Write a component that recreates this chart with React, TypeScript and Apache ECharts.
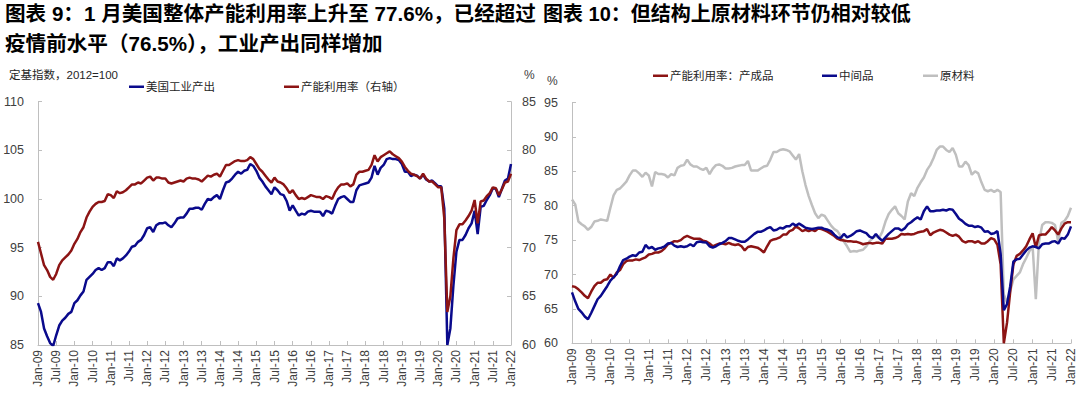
import React, { useEffect, useRef } from "react";
import * as echarts from "echarts";

const MONTHS = ["Jan", "Feb", "Mar", "Apr", "May", "Jun", "Jul", "Aug", "Sep", "Oct", "Nov", "Dec"];
const YEARS = ["09", "10", "11", "12", "13", "14", "15", "16", "17", "18", "19", "20", "21"];
const LAST_LABEL = "Jan-22";

// 美国工业产出 (定基指数 2012=100)
const industrialOutput = [
  89.3, 88.4, 86.7, 85.9, 85.2, 84.9, 86.0, 87.0, 87.5, 87.8, 88.2, 88.4,
  89.3, 89.6, 90.1, 90.5, 91.7, 92.0, 92.3, 92.7, 92.9, 92.7, 92.9, 93.5,
  93.5, 93.1, 93.9, 93.7, 93.9, 94.2, 94.6, 95.1, 95.2, 95.6, 95.8, 96.3,
  97.0, 97.1, 96.6, 97.3, 97.5, 97.5, 97.6, 97.3, 97.1, 97.5, 98.0, 98.1,
  98.1, 98.5, 99.0, 99.0, 99.1, 99.1, 98.9, 99.5, 100.0, 99.9, 100.2, 100.4,
  100.0, 100.9, 101.7, 101.8, 102.1, 102.5, 102.8, 102.6, 102.9, 103.0, 103.6, 103.4,
  102.9, 102.2, 101.8, 101.3, 100.9, 100.5, 101.2, 100.9, 100.5, 100.4, 99.8, 98.8,
  99.35, 98.8, 98.3, 98.5, 98.4, 98.7, 98.8, 98.7, 98.7, 98.7, 98.25, 98.8,
  98.7, 98.5, 99.3, 100.0, 100.2, 100.3, 100.0, 99.7, 99.7, 100.9, 101.4, 101.5,
  101.6, 101.7, 102.2, 103.4, 102.5, 103.2, 103.5, 104.1, 104.2, 104.1, 104.1, 104.0,
  103.6, 102.8, 102.8, 102.35, 102.5, 102.4, 102.1, 102.5, 102.0, 101.8, 101.9, 101.6,
  101.3, 101.3, 99.0, 85.0, 86.7, 91.1, 94.6, 95.8, 95.8, 96.3, 97.0, 97.5,
  98.8, 96.4, 99.2, 99.3, 99.9, 100.4, 101.1, 101.05, 100.2, 101.05, 101.9, 102.1,
  103.6,
];

// 产能利用率 (右轴, %)
const capacityUtilization = [
  70.6, 69.4, 68.2, 67.7, 67.0, 66.7, 67.3, 68.2, 68.7, 69.0, 69.3, 69.7,
  70.4, 70.9, 71.6, 72.1, 73.1, 73.7, 74.2, 74.5, 74.7, 74.7, 74.8, 75.5,
  75.4, 75.1, 75.8, 75.6, 75.7, 75.9, 76.2, 76.5, 76.5, 76.7, 76.6, 76.9,
  77.2, 77.3, 76.9, 77.2, 77.2, 77.1, 77.1, 76.7, 76.6, 76.7, 76.8, 76.9,
  76.8, 77.1, 77.2, 77.1, 77.1, 77.0, 76.8, 77.1, 77.4, 77.3, 77.5, 77.6,
  77.3, 77.9, 78.5, 78.5, 78.7, 78.9, 79.0, 78.9, 78.9, 79.0, 79.3, 79.1,
  78.6, 78.1, 77.8, 77.4, 77.0, 76.7, 77.2, 76.8, 76.7, 76.5, 76.1, 75.6,
  75.9, 75.4, 75.0, 75.1, 75.0, 75.2, 75.4, 75.3, 75.2, 75.2, 75.0, 75.3,
  75.2, 75.0, 75.7, 76.2, 76.5, 76.5, 76.6, 76.3, 76.5, 77.5, 77.8, 77.8,
  77.9, 78.0, 78.5, 79.5, 78.85, 79.3, 79.5, 79.7, 79.9, 79.6, 79.4, 79.2,
  78.85, 78.3, 77.9, 77.6, 77.5, 77.35, 77.1, 77.6, 77.1, 76.8, 76.8, 76.5,
  76.2, 76.2, 73.0, 63.4, 65.0, 68.9, 71.8, 72.4, 72.4, 72.8, 73.25, 73.8,
  74.9, 72.5, 74.75, 74.85, 75.3, 75.6, 76.2, 76.1, 75.4, 76.0, 76.7, 76.8,
  77.6,
];

// 产能利用率：产成品
const finishedGoods = [
  68.3, 68.2, 67.85, 67.4, 66.9, 66.55, 67.5, 68.3, 68.8, 68.8, 69.2, 69.3,
  70.0, 69.5, 70.3, 70.65, 71.5, 71.95, 72.05, 72.05, 72.2, 72.1, 72.3, 72.5,
  72.9, 73.0, 73.2, 73.2, 73.4, 73.8, 74.4, 74.6, 74.85, 74.8, 75.0, 75.4,
  75.6, 75.4, 75.2, 75.2, 75.2, 74.9, 74.8, 74.5, 74.1, 74.3, 74.5, 74.5,
  74.4, 74.6, 74.4, 74.3, 74.4, 74.1, 73.5, 74.0, 74.1, 74.0, 73.9, 73.6,
  73.2, 74.1, 74.9, 75.1, 75.2, 75.4, 75.8, 75.8, 76.3, 76.5, 77.0, 76.7,
  76.3, 76.5, 76.3, 76.5, 76.3, 76.7, 76.6, 76.4, 76.2, 75.9, 75.6, 75.2,
  75.0, 74.95, 74.85, 74.85, 74.75, 74.75, 74.6, 74.4, 74.5, 74.6, 74.5, 74.6,
  74.6, 74.5, 75.2, 75.2, 75.2, 75.3, 75.5, 75.9, 75.8, 75.9, 75.8, 75.9,
  76.1, 76.2, 76.3, 76.6, 75.7, 76.1, 76.3, 76.5, 76.4, 76.1, 75.8, 75.6,
  75.8, 75.5, 74.9, 74.65, 74.85, 74.85, 74.65, 74.85, 74.5, 74.5, 74.85, 75.3,
  75.1, 74.3, 71.5, 60.0, 63.0, 67.5, 71.5, 72.7, 73.0, 73.5, 74.1, 75.1,
  76.0, 73.9, 75.7, 75.8, 75.8, 76.3, 76.9, 76.4, 75.8, 76.7, 77.4, 77.6,
  77.6,
];

// 中间品
const intermediateGoods = [
  67.4, 66.1, 65.0, 64.5, 63.9, 63.5, 64.4, 65.4, 66.4, 66.9, 67.6, 68.3,
  69.1, 69.6, 70.1, 71.2, 72.1, 72.3, 72.6, 72.8, 72.7, 73.2, 73.3, 74.3,
  73.8, 74.0, 73.6, 73.8, 73.9, 74.1, 74.5, 74.6, 74.2, 74.0, 74.1, 74.0,
  74.1, 74.4, 74.1, 74.7, 74.8, 74.7, 74.65, 74.1, 73.9, 74.1, 74.4, 74.6,
  74.85, 75.3, 75.3, 75.1, 74.9, 74.75, 74.75, 75.1, 75.5, 75.9, 76.2, 76.2,
  76.4, 76.7, 76.9, 76.4, 76.5, 76.8, 76.7, 77.0, 77.0, 77.4, 77.1, 77.4,
  77.1, 76.8, 76.7, 76.6, 76.7, 76.8, 76.8, 76.6, 76.5, 76.3, 75.8, 75.4,
  75.3, 75.9, 75.4, 75.6, 75.9, 76.3, 76.4, 76.2, 76.0, 75.5, 75.3, 75.9,
  75.3, 74.9, 75.4, 75.9, 76.3, 76.7, 76.7, 76.4, 76.7, 77.3, 77.6, 78.0,
  78.3, 78.0, 79.2, 79.9, 79.2, 79.2, 79.3, 79.3, 79.4, 79.3, 79.5, 79.4,
  78.8, 78.1, 77.8, 77.35, 77.1, 77.1, 76.9, 77.0, 76.8, 76.2, 76.3, 75.9,
  76.0, 76.3, 73.0, 64.8, 65.7, 68.3, 71.9, 72.2, 72.3, 72.9, 73.5, 73.9,
  74.1, 74.0, 73.8, 74.4, 74.5, 74.5, 74.75, 74.85, 74.5, 75.3, 75.2, 75.8,
  77.0,
];

// 原材料
const rawMaterials = [
  80.9, 80.2, 77.7, 77.3, 77.0, 76.5, 76.9, 77.7, 77.8, 78.0, 77.9, 77.8,
  79.7, 81.5, 82.3, 82.5, 83.0, 83.5, 84.4, 85.1, 85.1, 84.7, 84.2, 84.8,
  84.4, 82.8, 84.9, 84.6, 84.6, 84.5, 84.1, 84.6, 84.4, 85.5, 85.8, 85.9,
  86.7, 86.0, 85.7, 85.7, 85.4, 85.2, 85.5, 84.6, 85.4, 85.9, 86.0, 85.8,
  85.4, 85.4, 85.5, 85.7, 85.8, 85.9, 85.9, 86.5, 85.1, 85.1, 85.1, 85.4,
  85.7, 85.8, 86.7, 87.8, 87.8, 88.1, 88.2, 88.1, 87.9, 87.3, 86.7, 87.5,
  85.0, 83.0, 81.4, 80.1, 78.9, 78.2, 78.7, 78.5, 77.8, 77.1, 76.6, 76.3,
  75.6, 74.8, 74.1, 73.3, 73.4, 73.35, 73.5, 73.6, 74.1, 74.8, 75.3, 75.6,
  75.3, 76.2, 77.7, 78.8, 79.4, 79.9, 78.9, 78.5, 78.0, 80.6, 81.8, 81.4,
  82.6, 83.4, 84.1, 85.2, 85.9, 86.9, 88.1, 88.6, 88.6, 88.1, 87.8, 88.4,
  87.4, 85.7, 85.7, 86.4, 85.9, 84.5, 85.0, 84.7, 83.4, 82.3, 82.1, 82.3,
  82.0, 82.3, 82.0, 67.1, 65.9, 67.6, 69.3, 69.8, 70.3, 71.5, 72.4, 73.4,
  74.1, 66.4, 74.8, 77.2, 77.6, 77.6, 77.5, 77.2, 74.8, 77.5, 77.8, 78.5,
  79.7,
];

const categories: string[] = [];
YEARS.forEach((y) => MONTHS.forEach((m) => categories.push(`${m}-${y}`)));
categories.push(LAST_LABEL);

const BLUE = "#0A0A8C";
const RED = "#8C1414";
const GRAY = "#BFBFBF";
const FONT = "'Liberation Sans', Arial, 'Noto Sans CJK SC', sans-serif";
const AXIS_GRAY = "#BFBFBF";
const LABEL_COLOR = "#404040";

function xAxisCfg(gridIndex: number) {
  return {
    type: "category",
    gridIndex,
    data: categories,
    boundaryGap: false,
    axisLine: { lineStyle: { color: AXIS_GRAY, width: 1 } },
    axisTick: { inside: true, interval: 5, length: 4, lineStyle: { color: AXIS_GRAY } },
    axisLabel: {
      interval: 5,
      rotate: 90,
      margin: 5,
      fontSize: 12,
      color: LABEL_COLOR,
      fontFamily: FONT,
    },
    splitLine: { show: false },
  };
}

function yAxisCfg(gridIndex: number, min: number, max: number, position: string, margin: number) {
  return {
    type: "value",
    gridIndex,
    min,
    max,
    interval: 5,
    position,
    axisLine: { show: true, lineStyle: { color: AXIS_GRAY, width: 1 } },
    axisTick: { show: true, inside: true, length: 4, lineStyle: { color: AXIS_GRAY } },
    axisLabel: { margin, fontSize: 12.5, color: LABEL_COLOR, fontFamily: FONT },
    splitLine: { show: false },
  };
}

function lineSeries(name: string, data: number[], color: string, xAxisIndex: number, yAxisIndex: number) {
  return {
    name,
    type: "line",
    data,
    xAxisIndex,
    yAxisIndex,
    showSymbol: false,
    symbol: "none",
    lineStyle: { color, width: 2.5 },
    itemStyle: { color },
    z: color === GRAY ? 2 : 3,
  };
}

function legendCfg(name: string, left: number, top: number) {
  return {
    data: [name],
    left,
    top,
    icon: "rect",
    itemWidth: 15,
    itemHeight: 2.5,
    itemGap: 0,
    padding: 0,
    textStyle: { fontSize: 11.5, color: "#262626", fontFamily: FONT, padding: [0, 0, 0, -3] },
    selectedMode: false,
  };
}

export default function App() {
  const ref = useRef<HTMLDivElement>(null);
  useEffect(() => {
    if (!ref.current) return;
    const chart = echarts.init(ref.current, undefined, { renderer: "svg" });
    const titleStyle = {
      fontWeight: "bold",
      fill: "#000",
      fontFamily: FONT,
    };
    chart.setOption({
      animation: false,
      backgroundColor: "#fff",
      grid: [
        { left: 38, top: 101.7, width: 473, height: 243.3, containLabel: false },
        { left: 572, top: 102.5, width: 499, height: 240.8, containLabel: false },
      ],
      xAxis: [xAxisCfg(0), xAxisCfg(1)],
      yAxis: [
        yAxisCfg(0, 85, 110, "left", 14),
        yAxisCfg(0, 60, 85, "right", 11),
        yAxisCfg(1, 60, 95, "left", 14),
      ],
      legend: [
        legendCfg("美国工业产出", 129, 81),
        legendCfg("产能利用率（右轴）", 284, 81),
        legendCfg("产能利用率：产成品", 653, 70),
        legendCfg("中间品", 822, 70),
        legendCfg("原材料", 923, 70),
      ],
      series: [
        lineSeries("美国工业产出", industrialOutput, BLUE, 0, 0),
        lineSeries("产能利用率（右轴）", capacityUtilization, RED, 0, 1),
        lineSeries("原材料", rawMaterials, GRAY, 1, 2),
        lineSeries("产能利用率：产成品", finishedGoods, RED, 1, 2),
        lineSeries("中间品", intermediateGoods, BLUE, 1, 2),
      ],
      graphic: [
        { type: "text", left: 5, top: 3, style: { ...titleStyle, fontSize: 20.6, text: "图表 9：1 月美国整体产能利用率上升至 77.6%，已经超过" } },
        { type: "text", left: 5, top: 33, style: { ...titleStyle, fontSize: 20.6, text: "疫情前水平（76.5%），工业产出同样增加" } },
        { type: "text", left: 543, top: 4, style: { ...titleStyle, fontSize: 20, text: "图表 10：但结构上原材料环节仍相对较低" } },
        { type: "text", left: 9, top: 69, style: { text: "定基指数，2012=100", fontSize: 11.5, fill: "#262626", fontFamily: FONT } },
        { type: "text", left: 524, top: 69, style: { text: "%", fontSize: 12, fill: "#404040", fontFamily: FONT } },
        { type: "text", left: 547, top: 75, style: { text: "%", fontSize: 12, fill: "#404040", fontFamily: FONT } },
      ],
    });
    return () => chart.dispose();
  }, []);
  return (
    <div
      ref={ref}
      style={{ position: "absolute", left: 0, top: 0, width: 1080, height: 400 }}
    />
  );
}
